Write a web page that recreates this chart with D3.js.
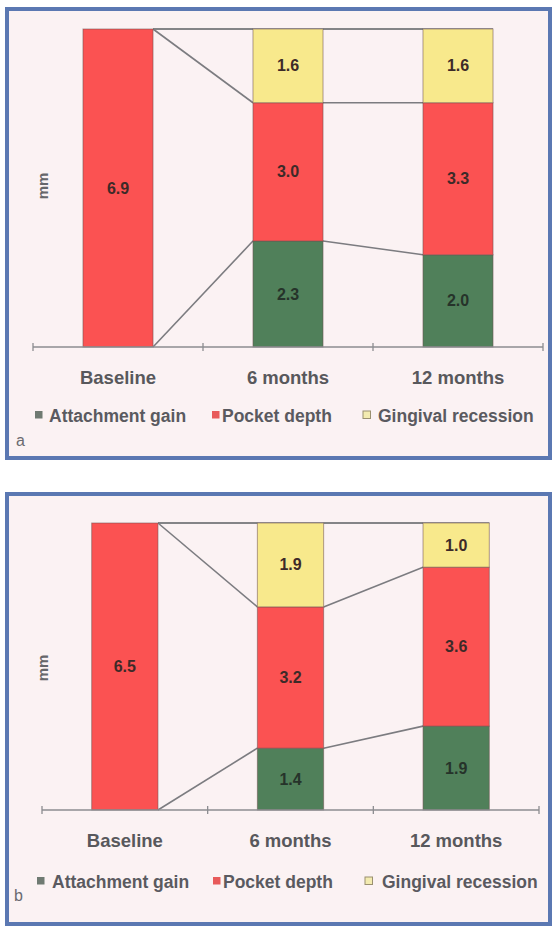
<!DOCTYPE html>
<html>
<head>
<meta charset="utf-8">
<script src="https://cdn.jsdelivr.net/npm/d3@7"></script>
<style>
  html, body { margin: 0; padding: 0; background: #ffffff; }
  svg { display: block; }
  text { font-family: "Liberation Sans", Arial, sans-serif; }
</style>
</head>
<body>
<svg id="chart" width="552" height="927"></svg>
<script>
// Categories, series and values of the two panels (mm)
const categories = ["Baseline", "6 months", "12 months"];
const seriesNames = ["Attachment gain", "Pocket depth", "Gingival recession"];

const gainA = [0, 2.3, 2.0];
const pocketA = [6.9, 3.0, 3.3];
const recessionA = [0, 1.6, 1.6];

const gainB = [0, 1.4, 1.9];
const pocketB = [6.5, 3.2, 3.6];
const recessionB = [0, 1.9, 1.0];

const colors = ["#50805a", "#fb5252", "#f8e98c"];
const legendColors = ["#6f7a72", "#e85a5a", "#f3ebb0"];

const svg = d3.select("#chart");

function drawPanel(cfg) {
  const g = svg.append("g");

  // panel frame
  g.append("rect")
    .attr("x", cfg.frame[0]).attr("y", cfg.frame[1])
    .attr("width", cfg.frame[2]).attr("height", cfg.frame[3])
    .attr("fill", "#fbf2f3")
    .attr("stroke", "#5b78b2")
    .attr("stroke-width", 4);

  const rows = categories.map((c, i) => ({
    cat: c,
    "Attachment gain": cfg.gain[i],
    "Pocket depth": cfg.pocket[i],
    "Gingival recession": cfg.recession[i]
  }));

  const stacked = d3.stack().keys(seriesNames)(rows);
  const total = d3.max(rows, r => seriesNames.reduce((s, k) => s + r[k], 0));

  const x = d3.scaleBand()
    .domain(categories)
    .range(cfg.xRange)
    .paddingInner(cfg.padInner)
    .paddingOuter(cfg.padOuter);

  const y = d3.scaleLinear()
    .domain([0, total])
    .range([cfg.axisY, cfg.topY]);

  // connector lines between the stack levels of neighbouring bars
  const levels = [0, 1, 2];
  const connectors = [];
  for (let i = 0; i < categories.length - 1; i++) {
    levels.forEach(l => {
      connectors.push({
        x1: x(categories[i]) + x.bandwidth(),
        y1: y(stacked[l][i][1]),
        x2: x(categories[i + 1]),
        y2: y(stacked[l][i + 1][1])
      });
    });
  }
  // top line running over all bars
  g.append("line")
    .attr("x1", x(categories[0]) + x.bandwidth())
    .attr("x2", x(categories[categories.length - 1]) + x.bandwidth())
    .attr("y1", y(total)).attr("y2", y(total))
    .attr("stroke", "#7c7c80").attr("stroke-width", 1.6);

  g.selectAll(".conn").data(connectors).join("line")
    .attr("x1", d => d.x1).attr("y1", d => d.y1)
    .attr("x2", d => d.x2).attr("y2", d => d.y2)
    .attr("stroke", "#7c7c80").attr("stroke-width", 1.6);

  // stacked bars
  stacked.forEach((layer, li) => {
    g.selectAll(".seg" + li).data(layer.filter(d => d[1] - d[0] > 0)).join("rect")
      .attr("x", d => x(d.data.cat))
      .attr("y", d => y(d[1]))
      .attr("width", x.bandwidth())
      .attr("height", d => y(d[0]) - y(d[1]))
      .attr("fill", colors[li])
      .attr("stroke", "rgba(110,80,80,0.55)")
      .attr("stroke-width", 1);
  });

  // value labels
  stacked.forEach((layer, li) => {
    g.selectAll(".val" + li).data(layer.filter(d => d[1] - d[0] > 0)).join("text")
      .attr("x", d => x(d.data.cat) + x.bandwidth() / 2)
      .attr("y", d => (y(d[0]) + y(d[1])) / 2)
      .attr("text-anchor", "middle")
      .attr("dominant-baseline", "central")
      .attr("font-size", 16)
      .attr("font-weight", "bold")
      .attr("fill", li === 0 ? "#26332a" : "#3d2a28")
      .text(d => d3.format(".1f")(d[1] - d[0]));
  });

  // category axis with ticks on the band boundaries
  const axisColor = "#8c8c90";
  g.append("line")
    .attr("x1", cfg.xRange[0]).attr("x2", cfg.xRange[1])
    .attr("y1", cfg.axisY).attr("y2", cfg.axisY)
    .attr("stroke", axisColor).attr("stroke-width", 1.5);
  const tickXs = d3.range(categories.length + 1).map(i => cfg.xRange[0] + i * x.step());
  g.selectAll(".tick").data(tickXs).join("line")
    .attr("x1", d => d).attr("x2", d => d)
    .attr("y1", cfg.axisY - 4).attr("y2", cfg.axisY + 4)
    .attr("stroke", axisColor).attr("stroke-width", 1.3);

  g.selectAll(".cat").data(categories).join("text")
    .attr("x", d => x(d) + x.bandwidth() / 2)
    .attr("y", cfg.axisY + 37)
    .attr("text-anchor", "middle")
    .attr("font-size", 18.5)
    .attr("font-weight", "bold")
    .attr("fill", "#58585c")
    .text(d => d);

  // y axis title
  g.append("text")
    .attr("transform", `translate(${cfg.unitPos[0]},${cfg.unitPos[1]}) rotate(-90)`)
    .attr("text-anchor", "middle")
    .attr("dominant-baseline", "central")
    .attr("font-size", 15)
    .attr("font-weight", "bold")
    .attr("fill", "#66666a")
    .text("mm");

  // legend
  const lg = g.append("g");
  seriesNames.forEach((name, i) => {
    const lx = cfg.legendX[i];
    lg.append("rect")
      .attr("x", lx).attr("y", cfg.legendY - 11)
      .attr("width", 7.5).attr("height", 7.5)
      .attr("fill", legendColors[i])
      .attr("stroke", i === 2 ? "#9a9070" : "none")
      .attr("stroke-width", 1);
    lg.append("text")
      .attr("x", lx + cfg.legendGap[i])
      .attr("y", cfg.legendY)
      .attr("font-size", 17.5)
      .attr("font-weight", "bold")
      .attr("fill", "#5a5a60")
      .text(name);
  });

  // panel letter
  g.append("text")
    .attr("x", cfg.letterPos[0]).attr("y", cfg.letterPos[1])
    .attr("font-size", 16)
    .attr("fill", "#6a6a70")
    .text(cfg.letter);
}

drawPanel({
  letter: "a",
  gain: gainA, pocket: pocketA, recession: recessionA,
  frame: [7, 9, 543, 449],
  xRange: [33, 543], padInner: 0.588, padOuter: 0.294,
  axisY: 347, topY: 29,
  unitPos: [42, 186],
  legendX: [35, 212, 363], legendGap: [14, 10, 15], legendY: 422,
  letterPos: [16, 446]
});

drawPanel({
  letter: "b",
  gain: gainB, pocket: pocketB, recession: recessionB,
  frame: [7, 494, 543, 430],
  xRange: [42, 539], padInner: 0.6, padOuter: 0.3,
  axisY: 810, topY: 523,
  unitPos: [42, 668],
  legendX: [37, 213, 365], legendGap: [15, 10, 17], legendY: 888,
  letterPos: [14, 901]
});
</script>
</body>
</html>
